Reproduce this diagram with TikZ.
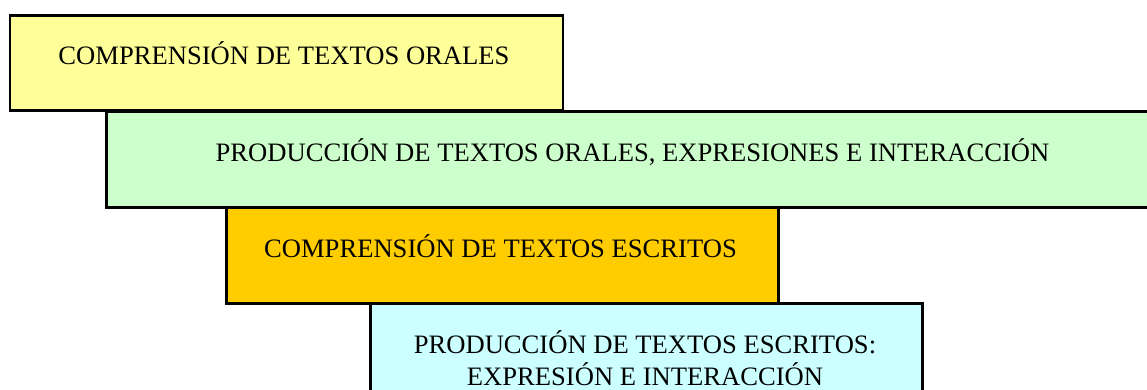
\documentclass[tikz,border=0pt]{standalone}
\usepackage{fontspec}
\setmainfont{Liberation Serif}
\definecolor{cyell}{HTML}{FFFF99}
\definecolor{cgreen}{HTML}{CCFFCC}
\definecolor{corange}{HTML}{FFCC00}
\definecolor{ccyan}{HTML}{CCFFFF}
\begin{document}
\begin{tikzpicture}[x=1pt,y=-1pt,
  band/.style={draw=black,line width=2.6pt,anchor=north west,inner sep=0pt},
  lbl/.style={anchor=base,inner sep=0pt,font=\fontsize{26.6}{32}\selectfont,text=black}]
\useasboundingbox (0,0) rectangle (1147,390);
\clip (0,0) rectangle (1147,390);
\node[band,fill=cyell,minimum width=553pt,minimum height=95pt] (b1) at (8.5,14) {};
\node[lbl] (t1) at (284,65) {COMPRENSIÓN DE TEXTOS ORALES};
\node[band,fill=cgreen,minimum width=1080pt,minimum height=96pt] (b2) at (105,110) {};
\node[lbl] (t2) at (632.5,162) {PRODUCCIÓN DE TEXTOS ORALES, EXPRESIONES E INTERACCIÓN};
\node[band,fill=corange,minimum width=552pt,minimum height=96pt] (b3) at (225,206) {};
\node[lbl] (t3) at (500.5,257) {COMPRENSIÓN DE TEXTOS ESCRITOS};
\node[band,fill=ccyan,minimum width=552pt,minimum height=110pt] (b4) at (369,302) {};
\node[lbl] (t4) at (645,353) {PRODUCCIÓN DE TEXTOS ESCRITOS:};
\node[lbl] (t5) at (645,385) {EXPRESIÓN E INTERACCIÓN};
\end{tikzpicture}
\end{document}
